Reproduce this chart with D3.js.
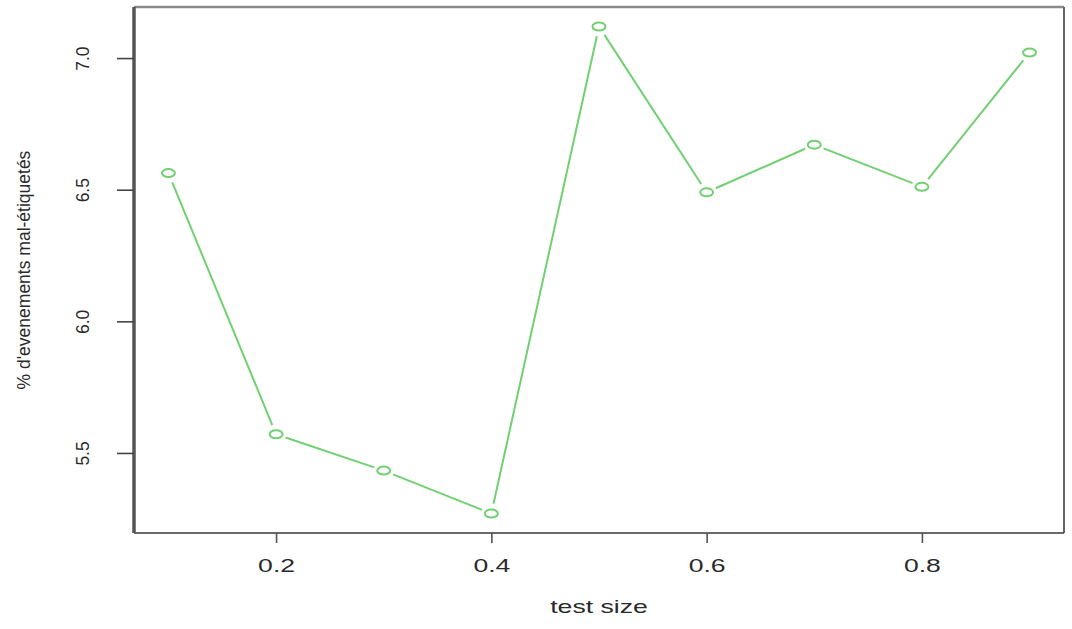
<!DOCTYPE html>
<html>
<head>
<meta charset="utf-8">
<script src="https://cdn.jsdelivr.net/npm/d3@7"></script>
<style>
  html, body { margin: 0; padding: 0; background: #fff; }
  svg { display: block; }
  text { font-family: "Liberation Sans", Arial, Helvetica, sans-serif; fill: #2a2a2a; }
</style>
</head>
<body>
<svg id="chart" width="1072" height="629"></svg>
<script>
// Test-set proportion vs. percentage of mislabelled events
const testSizes = [0.1, 0.2, 0.3, 0.4, 0.5, 0.6, 0.7, 0.8, 0.9];
const mislabelPct = [6.563, 5.571, 5.433, 5.270, 7.120, 6.490, 6.671, 6.511, 7.021];
const xTicks = [0.2, 0.4, 0.6, 0.8];
const yTicks = [5.5, 6.0, 6.5, 7.0];
const xTitle = "test size";
const yTitle = "% d'evenements mal-étiquetés";

const W = 1072, H = 629;
const plot = { left: 134, right: 1064, top: 7, bottom: 533 };
const lineColor = "#72d072";

// base-graphics style 4% padding around data range
function padded(vals) {
  const [lo, hi] = d3.extent(vals);
  const p = (hi - lo) * 0.04;
  return [lo - p, hi + p];
}

const x = d3.scaleLinear().domain(padded(testSizes)).range([plot.left, plot.right]);
const y = d3.scaleLinear().domain(padded(mislabelPct)).range([plot.bottom, plot.top]);

const svg = d3.select("#chart");
svg.append("rect").attr("width", W).attr("height", H).attr("fill", "#fff");

const pts = testSizes.map((t, i) => [x(t), y(mislabelPct[i])]);

// line segments with gaps around the markers (type "b")
const gap = 10;
const segs = svg.append("g")
  .attr("stroke", lineColor).attr("stroke-width", 2).attr("fill", "none");
for (let i = 0; i < pts.length - 1; i++) {
  const [x0, y0] = pts[i], [x1, y1] = pts[i + 1];
  const dx = x1 - x0, dy = y1 - y0, len = Math.hypot(dx, dy);
  if (len <= 2 * gap) continue;
  const ux = dx / len, uy = dy / len;
  segs.append("line")
    .attr("x1", x0 + ux * gap).attr("y1", y0 + uy * gap)
    .attr("x2", x1 - ux * gap).attr("y2", y1 - uy * gap);
}

// open markers
svg.append("g").selectAll("ellipse").data(pts).join("ellipse")
  .attr("cx", d => d[0]).attr("cy", d => d[1])
  .attr("rx", 6.5).attr("ry", 4)
  .attr("fill", "none").attr("stroke", lineColor).attr("stroke-width", 2);

// plot frame
const frame = svg.append("g").attr("fill", "none");
frame.append("line").attr("x1", plot.left).attr("x2", plot.right).attr("y1", plot.top).attr("y2", plot.top)
  .attr("stroke", "#8a8a8a").attr("stroke-width", 2.5);
frame.append("line").attr("x1", plot.right).attr("x2", plot.right).attr("y1", plot.top).attr("y2", plot.bottom)
  .attr("stroke", "#666").attr("stroke-width", 2);
frame.append("line").attr("x1", plot.left).attr("x2", plot.right).attr("y1", plot.bottom).attr("y2", plot.bottom)
  .attr("stroke", "#3a3a3a").attr("stroke-width", 1.6);
frame.append("line").attr("x1", plot.left).attr("x2", plot.left).attr("y1", plot.top).attr("y2", plot.bottom)
  .attr("stroke", "#555").attr("stroke-width", 3.5);

// x axis
const gx = svg.append("g")
  .attr("transform", `translate(0,${plot.bottom})`)
  .call(d3.axisBottom(x).tickValues(xTicks).tickSize(10).tickSizeOuter(0).tickFormat(d3.format(".1f")));
gx.select(".domain").remove();
gx.selectAll(".tick line").attr("stroke", "#555").attr("stroke-width", 1.6);
gx.selectAll(".tick text")
  .attr("y", 0).attr("dy", 0)
  .attr("transform", "translate(0,39) scale(1.4,1)")
  .attr("font-size", 19).attr("fill", "#2a2a2a");

// y axis
const gy = svg.append("g")
  .attr("transform", `translate(${plot.left},0)`)
  .call(d3.axisLeft(y).tickValues(yTicks).tickSize(17).tickSizeOuter(0).tickFormat(d3.format(".1f")));
gy.select(".domain").remove();
gy.selectAll(".tick line").attr("stroke", "#444").attr("stroke-width", 1.6);
gy.selectAll(".tick text")
  .attr("x", 0).attr("y", -45).attr("dy", 0)
  .attr("transform", "rotate(-90)")
  .attr("text-anchor", "middle")
  .attr("font-size", 17.5).attr("fill", "#2a2a2a");

// titles
svg.append("text")
  .attr("transform", `translate(${(plot.left + plot.right) / 2},613) scale(1.4,1)`)
  .attr("text-anchor", "middle").attr("font-size", 19)
  .text(xTitle);

svg.append("text")
  .attr("transform", `translate(30,${(plot.top + plot.bottom) / 2}) rotate(-90)`)
  .attr("text-anchor", "middle").attr("font-size", 17.5)
  .text(yTitle);
</script>
</body>
</html>
